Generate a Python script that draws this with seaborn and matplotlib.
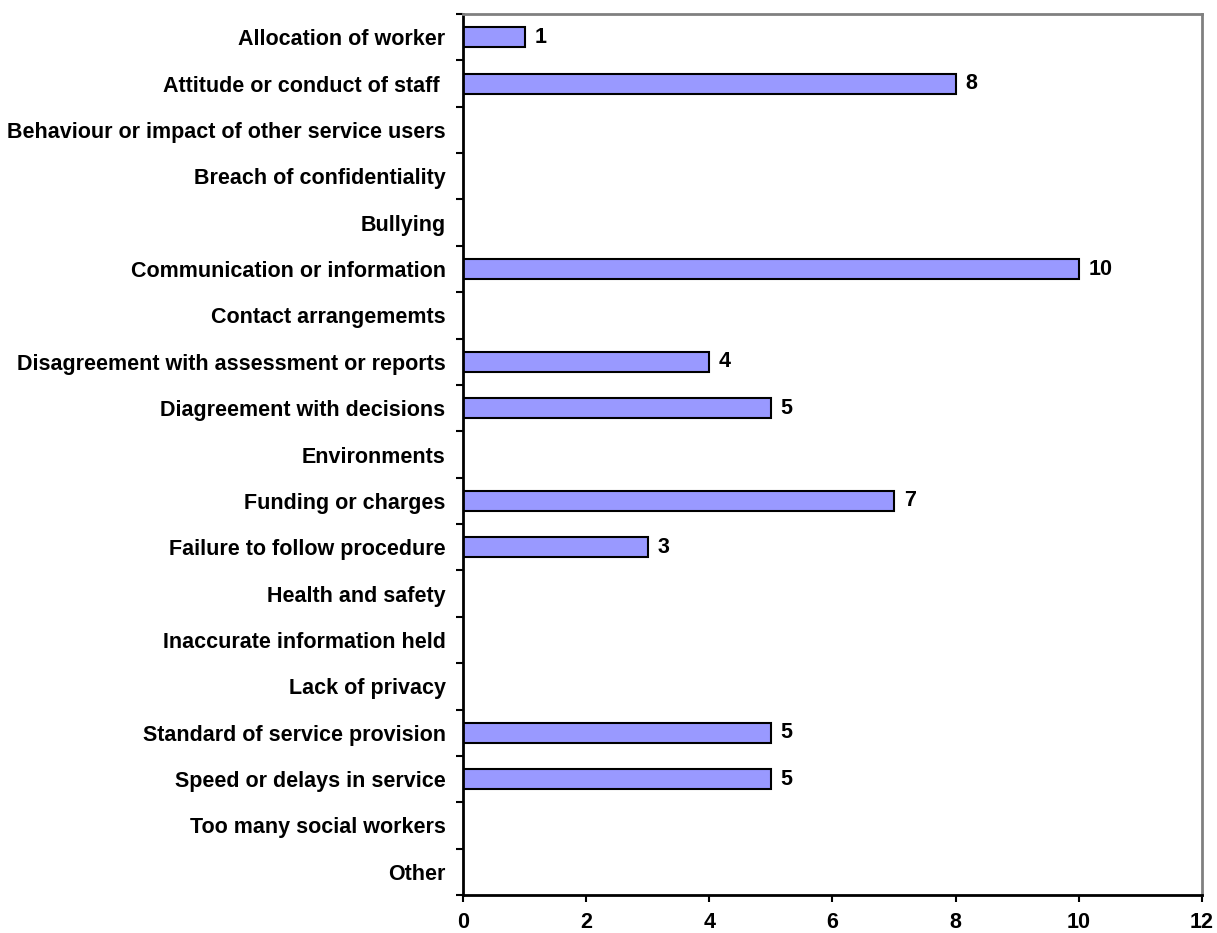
import matplotlib
matplotlib.use("Agg")
import matplotlib.pyplot as plt
import seaborn as sns
import pandas as pd
from matplotlib.ticker import FixedLocator, NullFormatter

categories = [
    "Allocation of worker",
    "Attitude or conduct of staff ",
    "Behaviour or impact of other service users",
    "Breach of confidentiality",
    "Bullying",
    "Communication or information",
    "Contact arrangememts",
    "Disagreement with assessment or reports",
    "Diagreement with decisions",
    "Environments",
    "Funding or charges",
    "Failure to follow procedure",
    "Health and safety",
    "Inaccurate information held",
    "Lack of privacy",
    "Standard of service provision",
    "Speed or delays in service",
    "Too many social workers",
    "Other",
]
counts = [1, 8, 0, 0, 0, 10, 0, 4, 5, 0, 7, 3, 0, 0, 0, 5, 5, 0, 0]
x_ticks = [0, 2, 4, 6, 8, 10, 12]

df = pd.DataFrame({"category": categories, "count": counts})

sns.set_theme(style="white")
plt.rcParams["font.family"] = ["Liberation Sans", "DejaVu Sans"]
plt.rcParams["font.weight"] = "bold"
plt.rcParams["text.color"] = "black"
plt.rcParams["xtick.color"] = "black"
plt.rcParams["ytick.color"] = "black"

FS = 15.5

fig = plt.figure(figsize=(12.17, 9.33), dpi=100)
ax = fig.add_axes([0.3804, 0.0407, 0.6073, 0.9443])

sns.barplot(data=df, x="count", y="category", orient="h", order=categories,
            color="#9999FF", saturation=1, width=0.43,
            edgecolor="black", linewidth=1.5, ax=ax)

n = len(categories)
ax.set_xlim(0, 12)
ax.set_ylim(n - 0.5, -0.5)
ax.set_xticks(x_ticks)
ax.set_xticklabels([str(t) for t in x_ticks], fontsize=FS, fontweight="bold")

# category boundaries carry the tick marks, labels sit at the centres
ax.yaxis.set_major_locator(FixedLocator([i - 0.5 for i in range(n + 1)]))
ax.yaxis.set_major_formatter(NullFormatter())
ax.yaxis.set_minor_locator(FixedLocator(list(range(n))))
ax.set_yticklabels(categories, minor=True, fontsize=FS, fontweight="bold")
ax.tick_params(axis="y", which="major", direction="out", length=5, width=1.5,
               color="black", left=True)
ax.tick_params(axis="y", which="minor", length=0, pad=12.5, left=True)
ax.tick_params(axis="x", which="major", direction="out", length=5, width=1.5,
               color="black", bottom=True, pad=7)

ax.set_xlabel("")
ax.set_ylabel("")

for side in ("left", "bottom"):
    ax.spines[side].set_color("black")
    ax.spines[side].set_linewidth(2)
for side in ("top", "right"):
    ax.spines[side].set_color("#808080")
    ax.spines[side].set_linewidth(2)

for i, v in enumerate(counts):
    if v:
        ax.annotate(str(v), xy=(v, i), xytext=(7, 0), textcoords="offset points",
                    va="center", ha="left", fontsize=FS, fontweight="bold")

fig.savefig("out.png", dpi=100)
